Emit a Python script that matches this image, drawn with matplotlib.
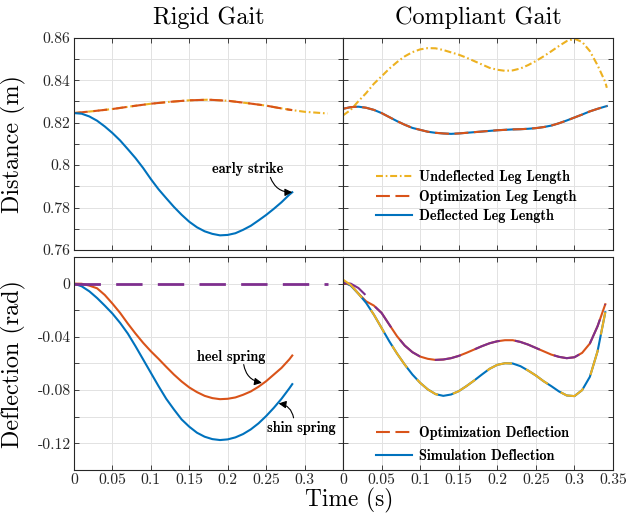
import matplotlib
matplotlib.use("Agg")
import matplotlib.pyplot as plt
from matplotlib.lines import Line2D

plt.rcParams.update({
    "font.family": "cmr10",
    "axes.unicode_minus": False,
    "mathtext.fontset": "cm",
    "lines.scale_dashes": False,
})

BLUE   = "#0072BD"
RED    = "#D95319"
YELLOW = "#EDB120"
PURPLE = "#7E2F8E"
BOLD   = "cmb10"

# ── Data ──────────────────────────────────────────────────────────────────────

# rigid gait, leg length (m)
t_rigid_und = [0.0, 0.025, 0.05, 0.075, 0.1, 0.125, 0.15, 0.175, 0.2, 0.225,
               0.25, 0.265, 0.28, 0.3, 0.33]
rigid_undeflected = [0.8245, 0.8254, 0.8264, 0.8277, 0.8289, 0.8298, 0.8305, 0.8308,
                     0.8303, 0.8292, 0.8280, 0.8270, 0.8261, 0.8251, 0.8243]
t_rigid_opt = [0.0, 0.025, 0.05, 0.075, 0.1, 0.125, 0.15, 0.175, 0.2, 0.225,
               0.25, 0.265, 0.28, 0.284]
rigid_opt_len = [0.8245, 0.8254, 0.8264, 0.8277, 0.8289, 0.8298, 0.8305, 0.8308,
                 0.8303, 0.8292, 0.8280, 0.8270, 0.8261, 0.8259]

t_rigid = [0.00, 0.01, 0.02, 0.03, 0.04, 0.05, 0.06, 0.07, 0.08, 0.09,
           0.10, 0.11, 0.12, 0.13, 0.14, 0.15, 0.16, 0.17, 0.18, 0.19,
           0.20, 0.21, 0.22, 0.23, 0.24, 0.25, 0.26, 0.27, 0.28, 0.284]
rigid_deflected = [0.8245, 0.8242, 0.8229, 0.8209, 0.8182, 0.8151, 0.8116, 0.8075, 0.8033, 0.7986,
                   0.7934, 0.7886, 0.7844, 0.7803, 0.7766, 0.7733, 0.7707, 0.7688, 0.7676, 0.7669,
                   0.7671, 0.7679, 0.7695, 0.7714, 0.7739, 0.7765, 0.7794, 0.7825, 0.7860, 0.7872]

# rigid gait, spring deflection (rad)
rigid_heel = [0.0, -0.0001, -0.0015, -0.0035, -0.0085, -0.0150, -0.0220, -0.0300, -0.0375, -0.0445,
              -0.0508, -0.0565, -0.0625, -0.0683, -0.0735, -0.0780, -0.0815, -0.0843, -0.0860, -0.0868,
              -0.0865, -0.0855, -0.0835, -0.0810, -0.0775, -0.0733, -0.0683, -0.0633, -0.0570, -0.0540]
rigid_shin = [0.0, -0.0020, -0.0058, -0.0108, -0.0165, -0.0225, -0.0295, -0.0375, -0.0470, -0.0570,
              -0.0670, -0.0770, -0.0865, -0.0945, -0.1020, -0.1075, -0.1120, -0.1150, -0.1168, -0.1175,
              -0.1170, -0.1155, -0.1130, -0.1095, -0.1050, -0.0995, -0.0933, -0.0865, -0.0788, -0.0755]
t_rigid_opt_defl = [0.0, 0.33]
rigid_opt_defl = [0.0, 0.0]

# compliant gait, leg length (m)
t_comp_len = [0.00, 0.01, 0.02, 0.03, 0.04, 0.05, 0.06, 0.07, 0.08, 0.09,
              0.10, 0.11, 0.12, 0.13, 0.14, 0.15, 0.16, 0.17, 0.18, 0.19,
              0.20, 0.21, 0.22, 0.23, 0.24, 0.25, 0.26, 0.27, 0.28, 0.29,
              0.30, 0.31, 0.32, 0.33, 0.34, 0.342]
comp_undeflected = [0.8234, 0.8260, 0.8301, 0.8339, 0.8383, 0.8418, 0.8454, 0.8485, 0.8512, 0.8532,
                    0.8545, 0.8551, 0.8550, 0.8542, 0.8531, 0.8520, 0.8506, 0.8490, 0.8474, 0.8458,
                    0.8449, 0.8444, 0.8446, 0.8455, 0.8471, 0.8490, 0.8512, 0.8536, 0.8561, 0.8584,
                    0.8595, 0.8580, 0.8537, 0.8470, 0.8391, 0.8364]
comp_deflected = [0.8265, 0.8273, 0.8275, 0.8270, 0.8260, 0.8245, 0.8226, 0.8207, 0.8190, 0.8175,
                  0.8166, 0.8157, 0.8152, 0.8149, 0.8147, 0.8149, 0.8152, 0.8155, 0.8158, 0.8161,
                  0.8164, 0.8166, 0.8168, 0.8169, 0.8171, 0.8174, 0.8179, 0.8186, 0.8197, 0.8210,
                  0.8224, 0.8238, 0.8253, 0.8265, 0.8276, 0.8278]
comp_opt_len = [0.8265, 0.8273, 0.8275, 0.8270, 0.8260, 0.8245, 0.8226, 0.8207, 0.8190, 0.8175,
                0.8166, 0.8157, 0.8152, 0.8149, 0.8147, 0.8149, 0.8152, 0.8155, 0.8158, 0.8161,
                0.8164, 0.8166, 0.8168, 0.8169, 0.8171, 0.8174, 0.8179, 0.8186, 0.8197, 0.8210,
                0.8224, 0.8238, 0.8253, 0.8265, 0.8276, 0.8278]

# compliant gait, spring deflection (rad)
t_comp = [0.00, 0.01, 0.02, 0.03, 0.04, 0.05, 0.06, 0.07, 0.08, 0.09,
          0.10, 0.11, 0.12, 0.13, 0.14, 0.15, 0.16, 0.17, 0.18, 0.19,
          0.20, 0.21, 0.22, 0.23, 0.24, 0.25, 0.26, 0.27, 0.28, 0.29,
          0.30, 0.31, 0.32, 0.33, 0.34]
comp_heel_sim = [0.0005, -0.0010, -0.0075, -0.0133, -0.0165, -0.0220, -0.0308, -0.0395, -0.0465, -0.0515,
                 -0.0548, -0.0565, -0.0573, -0.0570, -0.0560, -0.0543, -0.0520, -0.0495, -0.0470, -0.0448,
                 -0.0433, -0.0425, -0.0425, -0.0438, -0.0458, -0.0483, -0.0508, -0.0533, -0.0550, -0.0560,
                 -0.0553, -0.0520, -0.0450, -0.0320, -0.0155]
comp_heel_opt = [0.0005, 0.0000, -0.0033, -0.0090, -0.0165, -0.0220, -0.0308, -0.0395, -0.0465, -0.0515,
                 -0.0548, -0.0565, -0.0573, -0.0570, -0.0560, -0.0543, -0.0520, -0.0495, -0.0470, -0.0448,
                 -0.0433, -0.0425, -0.0425, -0.0438, -0.0458, -0.0483, -0.0508, -0.0533, -0.0550, -0.0560,
                 -0.0553, -0.0520, -0.0450, -0.0320, -0.0155]
comp_shin_sim = [0.0018, -0.0015, -0.0075, -0.0145, -0.0233, -0.0333, -0.0433, -0.0525, -0.0608, -0.0683,
                 -0.0745, -0.0795, -0.0830, -0.0843, -0.0833, -0.0808, -0.0770, -0.0728, -0.0683, -0.0640,
                 -0.0610, -0.0598, -0.0600, -0.0620, -0.0653, -0.0690, -0.0733, -0.0770, -0.0810, -0.0840,
                 -0.0845, -0.0800, -0.0700, -0.0508, -0.0215]
comp_shin_opt = [0.0030, -0.0010, -0.0075, -0.0145, -0.0233, -0.0333, -0.0433, -0.0525, -0.0608, -0.0683,
                 -0.0745, -0.0795, -0.0830, -0.0843, -0.0833, -0.0808, -0.0770, -0.0728, -0.0683, -0.0640,
                 -0.0610, -0.0598, -0.0600, -0.0620, -0.0653, -0.0690, -0.0733, -0.0770, -0.0810, -0.0840,
                 -0.0845, -0.0800, -0.0700, -0.0508, -0.0215]

x_ticks = [0, 0.05, 0.1, 0.15, 0.2, 0.25, 0.3, 0.35]
x_labels = ["0", "0.05", "0.1", "0.15", "0.2", "0.25", "0.3", "0.35"]
len_ticks = [0.76, 0.77, 0.78, 0.79, 0.80, 0.81, 0.82, 0.83, 0.84, 0.85, 0.86]
len_labels = ["0.76", "", "0.78", "", "0.8", "", "0.82", "", "0.84", "", "0.86"]
defl_ticks = [-0.14, -0.12, -0.10, -0.08, -0.06, -0.04, -0.02, 0.0, 0.02]
defl_labels = ["", "-0.12", "", "-0.08", "", "-0.04", "", "0", ""]

# ── Figure ────────────────────────────────────────────────────────────────────

W, H = 626, 517
fig = plt.figure(figsize=(W / 100, H / 100), dpi=100)


def px_axes(x0, y0, x1, y1):
    return fig.add_axes([x0 / W, 1 - y1 / H, (x1 - x0) / W, (y1 - y0) / H])


ax_rl = px_axes(74, 37.7, 343, 250)
ax_cl = px_axes(343, 37.7, 613, 250)
ax_rd = px_axes(74, 257, 343, 470)
ax_cd = px_axes(343, 257, 613, 470)

LW = 1.5
DASH = (10, 4)
DASHDOT = (5, 2, 1.2, 2)
LONGDASH = (19, 11)

# rigid, leg length
ax_rl.plot(t_rigid_und, rigid_undeflected, color=YELLOW, lw=LW, dashes=DASHDOT)
ax_rl.plot(t_rigid_opt, rigid_opt_len, color=RED, lw=LW, dashes=DASH)
ax_rl.plot(t_rigid, rigid_deflected, color=BLUE, lw=LW)

# compliant, leg length
ax_cl.plot(t_comp_len, comp_undeflected, color=YELLOW, lw=LW, dashes=DASHDOT)
ax_cl.plot(t_comp_len, comp_deflected, color=BLUE, lw=LW)
ax_cl.plot(t_comp_len, comp_opt_len, color=RED, lw=LW, dashes=DASH)

# rigid, deflection
ax_rd.plot(t_rigid, rigid_heel, color=RED, lw=LW)
ax_rd.plot(t_rigid, rigid_shin, color=BLUE, lw=LW)
ax_rd.plot(t_rigid_opt_defl, rigid_opt_defl, color=PURPLE, lw=2.0, dashes=LONGDASH)

# compliant, deflection
ax_cd.plot(t_comp, comp_heel_sim, color=RED, lw=LW)
ax_cd.plot(t_comp, comp_shin_sim, color=BLUE, lw=LW)
ax_cd.plot(t_comp, comp_heel_opt, color=PURPLE, lw=LW, dashes=LONGDASH)
ax_cd.plot(t_comp, comp_shin_opt, color=YELLOW, lw=LW, dashes=LONGDASH)

for ax in (ax_rl, ax_cl, ax_rd, ax_cd):
    ax.set_xlim(0, 0.35)
    ax.set_xticks(x_ticks)
    ax.grid(True, color="#e2e2e2", lw=0.7)
    ax.set_axisbelow(True)
    ax.tick_params(direction="in", top=True, right=True, length=3.5, width=0.6,
                   labelsize=11.3, colors="#262626", pad=2.5)
    for s in ax.spines.values():
        s.set_color("#262626")
        s.set_linewidth(0.8)

for ax in (ax_rl, ax_cl):
    ax.set_ylim(0.76, 0.86)
    ax.set_yticks(len_ticks)
    ax.set_xticklabels([])
for ax in (ax_rd, ax_cd):
    ax.set_ylim(-0.14, 0.02)
    ax.set_yticks(defl_ticks)
ax_cl.set_yticklabels([])
ax_cd.set_yticklabels([])
ax_rl.set_yticklabels(len_labels)
ax_rd.set_yticklabels(defl_labels)
ax_rd.set_xticklabels(x_labels[:-1] + [""])
ax_cd.set_xticklabels(x_labels)

ax_rl.set_title("Rigid Gait", fontsize=17.4, pad=10)
ax_cl.set_title("Compliant Gait", fontsize=17.4, pad=10)
ax_rl.set_ylabel("Distance (m)", fontsize=17.4)
ax_rd.set_ylabel("Deflection (rad)", fontsize=17.4)
ax_rl.yaxis.set_label_coords(-0.180, 0.5)
ax_rd.yaxis.set_label_coords(-0.180, 0.5)
fig.text(349.5 / W, 1 - 506 / H, "Time (s)", fontsize=16.8, ha="center", va="baseline")

# annotations
arrow = dict(arrowstyle="-|>", color="k", lw=0.8, shrinkA=0, shrinkB=0,
             mutation_scale=11, connectionstyle="arc3,rad=0.35")
ax_rl.text(0.226, 0.7981, "early strike", family=BOLD, fontsize=10.3, ha="center", va="center")
ax_rl.annotate("", xy=(t_rigid[-1], rigid_deflected[-1]), xytext=(0.2555, 0.7942), arrowprops=arrow)
ax_rd.text(0.205, -0.0550, "heel spring", family=BOLD, fontsize=10.3, ha="center", va="center")
ax_rd.annotate("", xy=(0.2445, -0.0745), xytext=(0.2208, -0.0608), arrowprops=arrow)
ax_rd.text(0.296, -0.1083, "shin spring", family=BOLD, fontsize=10.3, ha="center", va="center")
ax_rd.annotate("", xy=(0.2662, -0.0900), xytext=(0.2857, -0.1008), arrowprops=arrow)

# legends
leg_kw = dict(frameon=False, loc="center left", borderpad=0, borderaxespad=0,
              handlelength=2.5, handletextpad=0.53, prop=dict(family=BOLD, size=10.3))
h_top = [Line2D([], [], color=YELLOW, lw=LW, dashes=DASHDOT),
         Line2D([], [], color=RED, lw=LW, dashes=DASH),
         Line2D([], [], color=BLUE, lw=LW)]
ax_cl.legend(h_top, ["Undeflected Leg Length", "Optimization Leg Length", "Deflected Leg Length"],
             bbox_to_anchor=(0.122, 0.25), labelspacing=0.38, **leg_kw)
h_bot = [Line2D([], [], color=RED, lw=LW, dashes=DASH),
         Line2D([], [], color=BLUE, lw=LW)]
ax_cd.legend(h_bot, ["Optimization Deflection", "Simulation Deflection"],
             bbox_to_anchor=(0.122, 0.121), labelspacing=0.62, **leg_kw)

fig.savefig("out.png", dpi=100)
